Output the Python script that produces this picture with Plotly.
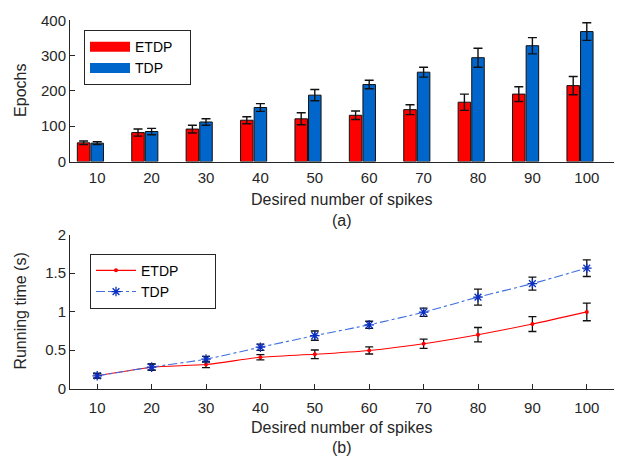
import plotly.graph_objects as go

spikes = [10, 20, 30, 40, 50, 60, 70, 80, 90, 100]

epochs_etdp = [53, 82, 92, 117, 121, 131, 147, 168, 191, 215]
epochs_etdp_err = [5, 10, 11, 10, 17, 12, 14, 23, 21, 26]
epochs_tdp = [52, 85, 112, 153, 188, 218, 253, 294, 328, 368]
epochs_tdp_err = [4, 9, 9, 11, 16, 12, 14, 27, 23, 25]

time_etdp = [0.167, 0.279, 0.313, 0.408, 0.446, 0.496, 0.583, 0.700, 0.838, 0.996]
time_etdp_err = [0.03, 0.04, 0.04, 0.033, 0.056, 0.046, 0.06, 0.094, 0.096, 0.115]
time_tdp = [0.167, 0.280, 0.383, 0.538, 0.688, 0.829, 0.992, 1.188, 1.363, 1.563]
time_tdp_err = [0.03, 0.04, 0.037, 0.04, 0.06, 0.046, 0.054, 0.104, 0.085, 0.108]

W, H = 622, 468
FONT = "Liberation Sans, Arial, sans-serif"
TXT = "#262626"
RED = "#FF0000"
BLUE = "#0066CC"
NB = "\u00a0"

def px_x(p):
    return p / W

def px_y(p):
    return 1 - p / H

fig = go.Figure()

bar_width = 2.3
fig.add_trace(go.Bar(
    x=[s - 2.5 for s in spikes], y=epochs_etdp, width=bar_width, name="ETDP",
    marker=dict(color=RED, line=dict(color="#111111", width=1)),
    error_y=dict(type="data", array=epochs_etdp_err, color="#111111", thickness=1.4, width=4.5),
    xaxis="x", yaxis="y", showlegend=False,
))
fig.add_trace(go.Bar(
    x=spikes, y=epochs_tdp, width=bar_width, name="TDP",
    marker=dict(color=BLUE, line=dict(color="#111111", width=1)),
    error_y=dict(type="data", array=epochs_tdp_err, color="#111111", thickness=1.4, width=4.5),
    xaxis="x", yaxis="y", showlegend=False,
))
# legend-only entries giving wide rectangular swatches like the original
for nm, col in [("ETDP", RED), ("TDP", BLUE)]:
    fig.add_trace(go.Scatter(
        x=[None], y=[None], mode="lines", name=nm + NB * 3,
        line=dict(color=col, width=13),
        xaxis="x", yaxis="y", legend="legend",
    ))

fig.add_trace(go.Scatter(
    x=spikes, y=time_etdp, name="ETDP" + NB * 8, mode="lines+markers",
    line=dict(color=RED, width=1.1, shape="spline", smoothing=0.6),
    marker=dict(color=RED, size=4, symbol="circle"),
    error_y=dict(type="data", array=time_etdp_err, color="#111111", thickness=1.3, width=4),
    xaxis="x2", yaxis="y2", legend="legend2",
))
fig.add_trace(go.Scatter(
    x=spikes, y=time_tdp, name="TDP" + NB * 8, mode="lines+markers",
    line=dict(color="#3D6FE0", width=1.1, dash="dashdot", shape="spline", smoothing=0.6),
    marker=dict(color="#0A2FC0", size=8, symbol="asterisk-open",
                line=dict(color="#0A2FC0", width=1.3)),
    error_y=dict(type="data", array=time_tdp_err, color="#111111", thickness=1.3, width=4),
    xaxis="x2", yaxis="y2", legend="legend2",
))

xdom = [px_x(70), px_x(614)]
axis_common = dict(
    showline=True, linecolor=TXT, linewidth=1, showgrid=False, zeroline=False,
    tickfont=dict(family=FONT, size=15, color=TXT), ticks="inside", ticklen=5,
    tickcolor=TXT, mirror=False,
)

fig.update_layout(
    width=W, height=H,
    margin=dict(l=0, r=0, t=0, b=0),
    paper_bgcolor="white", plot_bgcolor="white",
    barmode="overlay",
    font=dict(family=FONT, size=15, color=TXT),
    xaxis=dict(axis_common, domain=xdom, anchor="y", range=[5, 105],
               tickvals=spikes, ticks="", ticklabelstandoff=2),
    yaxis=dict(axis_common, domain=[px_y(158.3), px_y(11.7)], anchor="x",
               range=[0, 400], tickvals=[0, 100, 200, 300, 400]),
    xaxis2=dict(axis_common, domain=xdom, anchor="y2", range=[5, 105],
                tickvals=spikes, ticklabelstandoff=5),
    yaxis2=dict(axis_common, domain=[px_y(394), px_y(234)], anchor="x2",
                range=[0, 2], tickvals=[0, 0.5, 1, 1.5, 2],
                ticktext=["0", "0.5", "1", "1.5", "2"]),
    legend=dict(x=px_x(84), y=px_y(22), xanchor="left", yanchor="top",
                bordercolor=TXT, borderwidth=1, bgcolor="white",
                font=dict(family=FONT, size=14, color="#000000"),
                tracegroupgap=0, itemwidth=40, traceorder="normal"),
    legend2=dict(x=px_x(90), y=px_y(254), xanchor="left", yanchor="top",
                 bordercolor=TXT, borderwidth=1, bgcolor="white",
                 font=dict(family=FONT, size=14, color="#000000"),
                 tracegroupgap=0, itemwidth=40, traceorder="normal"),
    showlegend=True,
)

annots = [
    dict(text="Desired number of spikes", x=px_x(342), y=px_y(198)),
    dict(text="(a)", x=px_x(342), y=px_y(219)),
    dict(text="Desired number of spikes", x=px_x(342), y=px_y(434)),
    dict(text="(b)", x=px_x(342), y=px_y(455)),
    dict(text="Epochs", x=px_x(21), y=px_y(85), textangle=-90),
    dict(text="Running time (s)", x=px_x(21), y=px_y(314), textangle=-90),
]
for a in annots:
    fig.add_annotation(xref="paper", yref="paper", showarrow=False,
                       xanchor="center", yanchor="middle",
                       font=dict(family=FONT, size=16, color=TXT), **a)

fig.write_html("out.html")
